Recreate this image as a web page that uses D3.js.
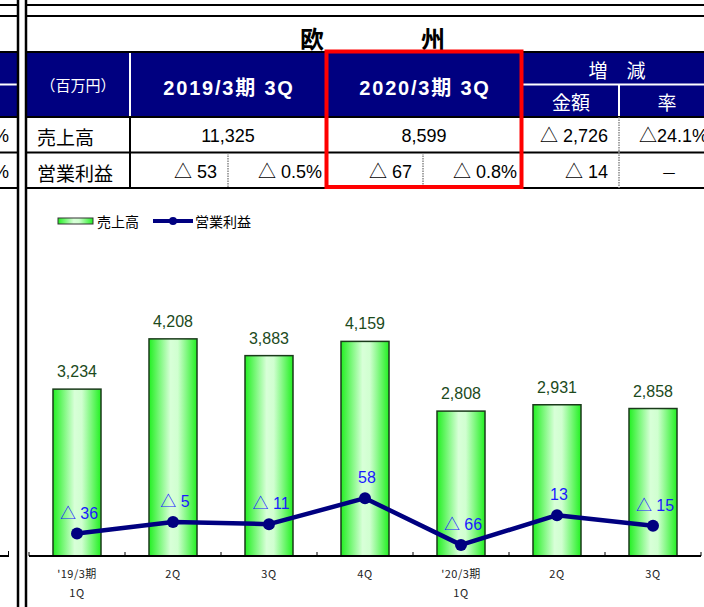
<!DOCTYPE html>
<html><head><meta charset="utf-8">
<script src="https://cdn.jsdelivr.net/npm/d3@7"></script>
<style>body{margin:0;background:#fff;} svg{display:block;}</style>
</head><body><svg id="c" width="704" height="607"></svg>
<script>
// ---- data ----
const tableTitle = ["欧", "州"];
const unitLabel = "（百万円）";
const periods = ["2019/3期 3Q", "2020/3期 3Q"];
const changeHeader = "増　減";
const changeSub = ["金額", "率"];
const rowLabels = ["売上高", "営業利益"];
const salesRow = ["11,325", "8,599", "△ 2,726", "△24.1%"];
const profitRow = ["△ 53", "△ 0.5%", "△ 67", "△ 0.8%", "△ 14", "－"];
const categories = [["'19/3期", "1Q"], ["2Q"], ["3Q"], ["4Q"], ["'20/3期", "1Q"], ["2Q"], ["3Q"]];
const sales = [3234, 4208, 3883, 4159, 2808, 2931, 2858];
const profit = [-36, -5, -11, 58, -66, 13, -15];
const legendLabels = ["売上高", "営業利益"];

// ---- setup ----
const JP = "'Noto Sans CJK JP', sans-serif";
const LAT = "'Liberation Sans', 'Noto Sans CJK JP', sans-serif";
const NAVY = "#000080";
const svg = d3.select("#c");
const defs = svg.append("defs");
const grad = defs.append("linearGradient").attr("id", "bargrad").attr("x1", "0").attr("x2", "1").attr("y1", "0").attr("y2", "0");
[[0, "#22f022"], [0.45, "#d8ffd8"], [0.6, "#d0ffd0"], [1, "#22f022"]].forEach(s =>
  grad.append("stop").attr("offset", s[0]).attr("stop-color", s[1]));

function hline(y, x1, x2, color = "#000", w = 2, dash = null) {
  const l = svg.append("line").attr("x1", x1).attr("x2", x2).attr("y1", y).attr("y2", y)
    .attr("stroke", color).attr("stroke-width", w);
  if (dash) l.attr("stroke-dasharray", dash);
}
function vline(x, y1, y2, color = "#000", w = 2, dash = null) {
  const l = svg.append("line").attr("x1", x).attr("x2", x).attr("y1", y1).attr("y2", y2)
    .attr("stroke", color).attr("stroke-width", w);
  if (dash) l.attr("stroke-dasharray", dash);
}
function text(x, y, s, opts = {}) {
  return svg.append("text").attr("x", x).attr("y", y).text(s)
    .attr("font-family", opts.font || JP).attr("font-size", opts.size || 14)
    .attr("font-weight", opts.weight || "normal").attr("fill", opts.fill || "#000")
    .attr("text-anchor", opts.anchor || "middle").attr("dominant-baseline", "central")
    .attr("letter-spacing", opts.ls || 0);
}

// ---- table ----
svg.append("rect").attr("x", 0).attr("y", 52).attr("width", 18).attr("height", 65).attr("fill", NAVY);
svg.append("rect").attr("x", 26).attr("y", 52).attr("width", 678).attr("height", 65).attr("fill", NAVY);
hline(84.5, 0, 17, "#fff", 2);
vline(130, 52, 117, "#fff", 2);
hline(84.5, 522, 704, "#fff", 2);
vline(619, 85, 117, "#fff", 2);

[5, 16, 52, 117, 152.5, 188].forEach(y => { hline(y, 0, 18); hline(y, 26, 704); });
vline(18, 0, 607, "#000", 2.5);
vline(26, 0, 607, "#000", 2.5);
vline(130, 117, 188);
vline(326, 117, 188);
vline(522, 52, 188);
vline(228, 153, 188, "#888", 1.5, "1.5,1");
vline(423, 153, 188, "#888", 1.5, "1.5,1");
vline(619, 117, 188, "#888", 1.5, "1.5,1");

text(312, 37.5, tableTitle[0], {size: 24, weight: "bold"});
text(433, 37.5, tableTitle[1], {size: 24, weight: "bold"});
text(78, 84, unitLabel, {size: 15, fill: "#fff"});
text(229, 88, periods[0], {font: LAT, size: 20, weight: "bold", fill: "#fff", ls: 1.8});
text(425, 88, periods[1], {font: LAT, size: 20, weight: "bold", fill: "#fff", ls: 1.8});
text(617, 69, changeHeader, {size: 19, fill: "#fff"});
text(571, 101, changeSub[0], {size: 19, fill: "#fff"});
text(667, 101, changeSub[1], {size: 19, fill: "#fff"});
text(37, 136, rowLabels[0], {size: 19, anchor: "start"});
text(37, 172, rowLabels[1], {size: 19, anchor: "start"});
text(9, 136, "%", {font: LAT, size: 18, anchor: "end"});
text(9, 172, "%", {font: LAT, size: 18, anchor: "end"});
text(228, 136, salesRow[0], {font: LAT, size: 18});
text(424, 136, salesRow[1], {font: LAT, size: 18});
text(608, 136, salesRow[2], {font: LAT, size: 18, anchor: "end"});
text(639, 136, salesRow[3], {font: LAT, size: 18, anchor: "start"});
text(217, 172, profitRow[0], {font: LAT, size: 18, anchor: "end"});
text(322, 172, profitRow[1], {font: LAT, size: 18, anchor: "end"});
text(412, 172, profitRow[2], {font: LAT, size: 18, anchor: "end"});
text(517, 172, profitRow[3], {font: LAT, size: 18, anchor: "end"});
text(608, 172, profitRow[4], {font: LAT, size: 18, anchor: "end"});
text(669, 172, profitRow[5], {size: 16});

svg.append("rect").attr("x", 326.5).attr("y", 51.5).attr("width", 195).attr("height", 135.5)
  .attr("fill", "none").attr("stroke", "#ff0000").attr("stroke-width", 4);

// ---- legend ----
svg.append("rect").attr("x", 58).attr("y", 218).attr("width", 35).attr("height", 6)
  .attr("fill", "url(#bargrad)").attr("stroke", "#333").attr("stroke-width", 1);
text(97, 221, legendLabels[0], {size: 14, anchor: "start"});
hline(221, 153, 193, NAVY, 4);
svg.append("circle").attr("cx", 173).attr("cy", 221).attr("r", 4).attr("fill", NAVY);
text(195, 221, legendLabels[1], {size: 14, anchor: "start"});

// ---- chart ----
const x = d3.scaleBand().domain(d3.range(categories.length)).range([29, 701]).padding(0);
const yBar = d3.scaleLinear().domain([0, 6000]).range([556, 246.4]);
const yLine = d3.scaleLinear().domain([-100, 700]).range([557.7, 256.4]);
const bw = x.bandwidth();
const fmt = v => (v < 0 ? "△ " : "") + d3.format(",")(Math.abs(v));

svg.append("g").selectAll("rect").data(sales).join("rect")
  .attr("x", (d, i) => x(i) + bw * 0.25).attr("width", bw * 0.5)
  .attr("y", d => yBar(d)).attr("height", d => yBar(0) - yBar(d))
  .attr("fill", "url(#bargrad)").attr("stroke", "#1a3a1a").attr("stroke-width", 1.5);

svg.append("g").selectAll("text").data(sales).join("text")
  .attr("x", (d, i) => x(i) + bw / 2).attr("y", d => yBar(d) - 12)
  .attr("text-anchor", "middle").attr("font-family", LAT).attr("font-size", 16)
  .attr("fill", "#1c4a1c").text(d => d3.format(",")(d));

hline(556, 29, 701, "#000", 2);
hline(556, 0, 9, "#000", 2);
vline(8.5, 551, 556, "#000", 1);
x.domain().concat([categories.length]).forEach(i => {
  const xx = i < categories.length ? x(i) : x(categories.length - 1) + bw;
  vline(xx, 552, 556, "#000", 1);
});
const xl = svg.append("g");
categories.forEach((c, i) => {
  c.forEach((s, j) => {
    xl.append("text").attr("x", x(i) + bw / 2).attr("y", 573 + j * 19)
      .attr("text-anchor", "middle").attr("dominant-baseline", "central")
      .attr("font-family", JP).attr("font-size", 11).attr("letter-spacing", 0.5)
      .attr("fill", "#222").text(s);
  });
});

const line = d3.line().x((d, i) => x(i) + bw / 2).y(d => yLine(d));
svg.append("path").datum(profit).attr("d", line).attr("fill", "none")
  .attr("stroke", NAVY).attr("stroke-width", 4.5).attr("stroke-linejoin", "round");
svg.append("g").selectAll("circle").data(profit).join("circle")
  .attr("cx", (d, i) => x(i) + bw / 2).attr("cy", d => yLine(d)).attr("r", 6).attr("fill", NAVY);
svg.append("g").selectAll("text").data(profit).join("text")
  .attr("x", (d, i) => x(i) + bw / 2 + 2).attr("y", d => yLine(d) - 15)
  .attr("text-anchor", "middle").attr("font-family", LAT).attr("font-size", 16)
  .attr("fill", "#1a1aff").text(d => fmt(d));
</script></body></html>
